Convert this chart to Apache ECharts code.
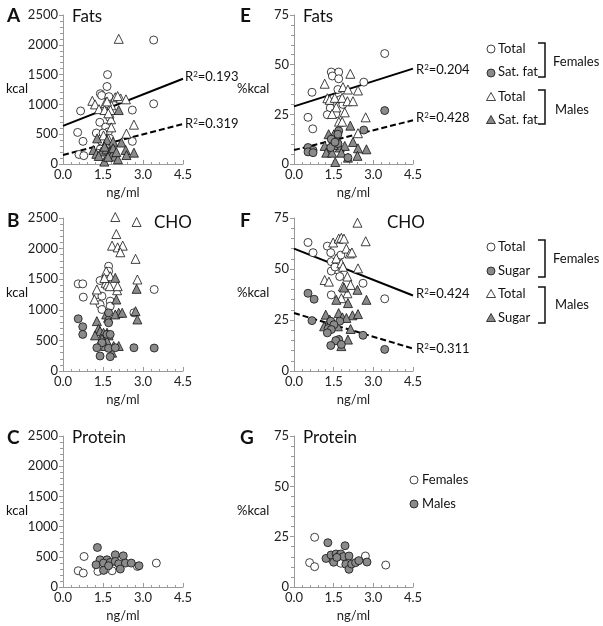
<!DOCTYPE html>
<html><head><meta charset="utf-8">
<script src="https://cdn.jsdelivr.net/npm/echarts@6/dist/echarts.min.js"></script>
<style>html,body{margin:0;padding:0;background:#fff}#c{width:603px;height:626px}</style>
</head><body><div id="c"></div>
<script>
// ---- Data (x = ng/ml) ----
const xTicks = [0.0, 1.5, 3.0, 4.5];
const kcalTicks = [0, 500, 1000, 1500, 2000, 2500];
const pctTicks = [0, 25, 50, 75];

// A: Fats kcal
const fatsKcalFemTotal = [[3.40,2080],[1.67,1500],[1.65,1300],[1.40,1180],[1.45,1150],[1.72,1130],[0.66,890],[3.40,1010],[2.60,905],[1.55,900],[1.75,780],[1.38,700],[1.60,620],[1.25,520],[1.70,540],[0.55,530],[0.75,380],[1.75,430],[2.60,380],[1.45,380],[0.60,160],[0.78,140],[1.40,250],[1.55,200],[1.85,300],[1.30,180],[1.65,330],[1.50,520]];
const fatsKcalMaleTotal = [[2.09,2100],[1.10,1060],[1.20,1000],[1.35,920],[1.58,1020],[1.81,985],[1.96,1120],[2.16,1100],[2.36,1085],[1.78,905],[1.56,905],[1.80,750],[1.70,850],[1.81,615],[2.66,660],[2.38,510],[1.69,430],[1.52,480],[2.05,1140],[1.65,1050]];
const fatsKcalMaleSat = [[2.09,905],[1.28,430],[1.65,400],[1.88,375],[2.19,360],[1.14,235],[1.25,170],[1.44,210],[1.63,245],[1.78,210],[1.84,150],[1.94,125],[2.06,80],[2.35,235],[2.38,150],[2.66,190],[1.55,40],[1.34,135],[1.69,120],[1.88,265],[1.56,290],[2.00,200]];
const fatsKcalTotalFit = [[0,640],[4.5,1430]];
const fatsKcalSatFit = [[0,150],[4.5,670]];

// E: Fats %kcal
const fatsPctFemTotal = [[3.43,55.6],[1.41,46.3],[1.69,46.3],[1.45,44.3],[1.69,42.9],[2.64,41.2],[0.68,36.1],[1.66,37.5],[1.75,32.4],[1.37,28.2],[1.26,24.8],[0.53,23.5],[0.71,17.7],[1.58,25.2],[1.85,30.0]];
const fatsPctMaleTotal = [[2.13,45.4],[1.16,40.4],[1.85,38.7],[2.04,37.5],[2.42,37.0],[1.26,33.1],[1.35,32.3],[1.54,33.3],[1.82,33.3],[2.02,31.6],[2.23,31.6],[1.60,28.5],[1.92,26.0],[1.44,25.2],[1.70,21.3],[1.82,21.3],[2.71,23.5],[2.42,15.5]];
const fatsPctMaleSat = [[2.13,19.3],[1.31,15.0],[1.51,15.0],[1.64,12.5],[2.23,11.1],[1.16,9.1],[1.35,8.3],[1.73,8.3],[1.92,9.1],[2.42,7.9],[1.22,5.7],[1.44,5.7],[1.79,5.7],[2.04,3.2],[2.40,4.1],[2.74,7.4],[1.56,1.0],[1.50,9.5]];
const fatsPctFemSat = [[3.43,26.9],[2.64,17.1],[1.69,16.7],[1.66,15.0],[1.41,12.5],[1.66,10.3],[1.39,8.3],[0.53,8.3],[0.72,6.9],[0.53,6.1],[0.72,5.7],[2.04,3.2],[1.55,11.0]];
const fatsPctTotalFit = [[0,29],[4.5,48]];
const fatsPctSatFit = [[0,7],[4.5,22]];

// B: CHO kcal
const choKcalMaleTotal = [[1.96,2516],[2.76,2435],[2.00,2238],[1.84,2048],[2.05,2020],[2.24,2048],[2.15,1940],[2.72,1832],[1.62,1630],[1.77,1549],[1.60,1440],[1.67,1413],[1.75,1386],[2.79,1495],[1.27,1332],[2.03,1320],[1.18,1168],[1.55,1520],[2.05,1386]];
const choKcalFemTotal = [[1.71,1712],[1.71,1630],[0.57,1424],[0.74,1424],[1.39,1478],[1.27,1250],[1.46,1223],[0.76,1207],[3.42,1332],[1.39,1087],[1.77,1141],[1.77,1060],[1.46,1005],[2.66,951],[1.60,1500]];
const choKcalMaleSugar = [[1.96,1522],[2.76,1342],[2.00,1168],[2.09,951],[1.96,924],[2.22,951],[2.72,978],[2.79,842],[1.27,815],[1.62,924],[1.69,870],[1.33,690],[1.39,652],[1.20,582],[1.52,625],[1.65,625],[1.71,582],[1.46,527],[1.65,489],[1.90,408],[2.09,408],[1.58,408],[1.84,300]];
const choKcalFemSugar = [[0.57,853],[0.74,723],[0.74,598],[1.71,951],[1.71,788],[1.65,598],[1.77,598],[1.46,462],[1.27,380],[1.71,370],[1.96,380],[2.66,380],[3.42,375],[1.39,245],[1.77,234]];

// F: CHO %kcal
const choPctFemTotal = [[0.53,63],[0.72,58],[1.26,61.2],[1.39,58],[1.77,56.8],[1.41,53.6],[1.64,51.9],[1.66,49.5],[1.41,49],[1.73,46.3],[2.61,43],[1.41,37.3],[3.43,35.4],[1.55,51]];
const choPctMaleTotal = [[2.40,72.7],[1.48,63],[1.69,64.9],[1.79,65.3],[1.89,64.9],[2.71,63.6],[1.98,60],[2.11,57.6],[2.19,58.1],[1.60,55.2],[1.79,52.8],[1.85,51.1],[2.02,46.3],[2.42,50.3],[1.16,44.6],[1.32,43.8],[2.14,42.2],[1.85,41.4],[2.02,38.1],[1.79,35.7]];
const choPctMaleSugar = [[1.89,40.9],[2.40,39.8],[2.74,34.9],[1.60,34.9],[2.04,33.3],[1.20,27.6],[1.69,28.4],[1.83,26.3],[2.21,27.3],[2.42,27.9],[1.35,25.2],[1.48,23.5],[1.98,26],[1.14,21.9],[1.66,21.9],[2.14,20.6],[1.73,15.4],[2.04,15.4],[1.79,12.2]];
const choPctFemSugar = [[0.53,38.1],[0.76,35.2],[0.68,24.7],[1.39,24.4],[1.73,24.4],[1.51,22.7],[1.29,20.8],[1.41,20.3],[1.26,18.7],[1.69,15.4],[1.58,14.9],[1.39,12.5],[1.79,13],[2.61,17.5],[3.43,10.6]];
const choPctTotalFit = [[0,60],[4.5,37]];
const choPctSugarFit = [[0,28.4],[4.5,11]];

// C: Protein kcal
const protKcalFem = [[0.79,505],[0.57,269],[0.76,231],[1.31,258],[1.84,269],[3.50,396],[2.79,340],[1.60,300]];
const protKcalMale = [[1.29,654],[1.39,451],[1.65,451],[1.96,533],[2.26,516],[1.24,368],[1.52,396],[1.77,407],[1.96,423],[2.09,385],[2.34,396],[2.56,396],[2.85,352],[1.52,275],[2.15,297],[1.71,352]];

// G: Protein %kcal
const protPctFem = [[0.78,24.7],[0.59,12.1],[0.78,10.1],[2.70,15.4],[3.47,10.9],[1.77,11.8],[1.45,13.5]];
const protPctMale = [[1.28,22],[1.93,20.5],[1.21,14.2],[1.40,15.9],[1.59,16.4],[1.71,15.4],[1.77,16.4],[1.87,15.1],[2.08,15.4],[1.50,12.3],[1.96,11.3],[2.08,8.8],[2.18,11.4],[2.33,12.1],[2.45,13.1],[2.76,12.4],[1.62,14.7]];

// ---- Styling / layout ----
const FONT = 'Lato, "Open Sans", sans-serif';
const GRAY = '#8a8a8a';
const AXIS = '#9a9a9a';
const grids = [
  {left:63, top:15, width:120, height:149},   // A
  {left:63, top:218, width:120, height:153},  // B
  {left:63, top:436, width:120, height:151},  // C
  {left:294, top:15, width:119, height:149},  // E
  {left:294, top:218, width:119, height:153}, // F
  {left:294, top:436, width:119, height:151}  // G
];
function xAx(i){
  return {gridIndex:i, type:'value', min:xTicks[0], max:xTicks[xTicks.length-1], interval:xTicks[1]-xTicks[0],
    axisLine:{lineStyle:{color:AXIS}}, axisTick:{show:true, inside:true, length:4, lineStyle:{color:AXIS}},
    minorTick:{show:true, splitNumber:5, length:2, lineStyle:{color:AXIS}},
    splitLine:{show:false},
    name:'ng/ml', nameLocation:'middle', nameGap:22, nameTextStyle:{fontSize:13, fontFamily:FONT, color:'#222'},
    axisLabel:{color:'#222', fontSize:13, fontFamily:FONT, margin:4, formatter:v=>v.toFixed(1)}};
}
function yAx(i, ticks){
  return {gridIndex:i, type:'value', min:ticks[0], max:ticks[ticks.length-1], interval:ticks[1]-ticks[0],
    axisLine:{show:true, lineStyle:{color:AXIS}}, axisTick:{show:true, length:4, lineStyle:{color:AXIS}},
    minorTick:{show:true, splitNumber:5, length:3, lineStyle:{color:AXIS}},
    splitLine:{show:false},
    axisLabel:{color:'#222', fontSize:13, fontFamily:FONT, margin:5, formatter:v=>String(v)}};
}
function sc(i, data, symbol, filled){
  return {type:'scatter', xAxisIndex:i, yAxisIndex:i, data:data, symbol:symbol, clip:false,
    symbolSize: symbol==='triangle' ? 9 : 8,
    itemStyle:{color: filled ? GRAY : '#fff', borderColor:'#111', borderWidth:0.8, opacity:1},
    emphasis:{disabled:true}, silent:true};
}
function fit(i, data, dashed){
  return {type:'line', xAxisIndex:i, yAxisIndex:i, data:data, symbol:'none', silent:true,
    lineStyle:{color:'#000', width:2, type: dashed ? [6,3] : 'solid'}, z:1};
}
function txt(x, y, text, size, bold){
  return {type:'text', x:x, y:y, style:{text:text, fill:'#111', font:(bold?'bold ':'') + size + 'px ' + FONT, textVerticalAlign:'middle'}};
}
function rtxt(x, y, val){
  return {type:'text', x:x, y:y, style:{text:'R{s|2}=' + val, fill:'#111', font:'13px ' + FONT, textVerticalAlign:'middle',
    rich:{s:{fontSize:8, verticalAlign:'top', padding:[0,0,6,0], fontFamily:FONT}}}};
}
function circ(x,y,filled){ return {type:'circle', shape:{cx:x, cy:y, r:4}, style:{fill: filled?GRAY:'#fff', stroke:'#111', lineWidth:0.8}}; }
function tri(x,y,filled){ return {type:'polygon', shape:{points:[[x,y-4.5],[x+4.5,y+3.5],[x-4.5,y+3.5]]}, style:{fill: filled?GRAY:'#fff', stroke:'#111', lineWidth:0.8}}; }
function bracket(x, y1, y2){ return {type:'polyline', shape:{points:[[x-7,y1],[x,y1],[x,y2],[x-7,y2]]}, style:{stroke:'#111', lineWidth:1.5, fill:null}}; }

const graphics = [
  txt(7, 16, 'A', 19, true), txt(7, 221, 'B', 19, true), txt(7, 438, 'C', 19, true),
  txt(240, 16, 'E', 19, true), txt(240, 221, 'F', 19, true), txt(240, 438, 'G', 19, true),
  txt(72, 17, 'Fats', 17), txt(154, 223, 'CHO', 17), txt(72, 438, 'Protein', 17),
  txt(303, 17, 'Fats', 17), txt(387, 223, 'CHO', 17), txt(303, 438, 'Protein', 17),
  txt(6, 89, 'kcal', 13), txt(6, 293, 'kcal', 13), txt(6, 511, 'kcal', 13),
  txt(237, 89, '%kcal', 13), txt(237, 293, '%kcal', 13), txt(237, 511, '%kcal', 13),
  rtxt(185, 77, '0.193'), rtxt(185, 124, '0.319'),
  rtxt(416, 70, '0.204'), rtxt(416, 118, '0.428'),
  rtxt(416, 294, '0.424'), rtxt(416, 349, '0.311'),
  // legend E
  circ(491,49,false), txt(498,49,'Total',13), circ(491,73,true), txt(498,72,'Sat. fat',13),
  tri(491,97,false), txt(498,97,'Total',13), tri(491,120,true), txt(498,120,'Sat. fat',13),
  bracket(545,43,77), txt(553,62,'Females',13), bracket(545,90,124), txt(555,110,'Males',13),
  // legend F
  circ(491,247,false), txt(498,247,'Total',13), circ(491,271,true), txt(498,271,'Sugar',13),
  tri(491,294,false), txt(498,294,'Total',13), tri(491,318,true), txt(498,318,'Sugar',13),
  bracket(545,240,277), txt(553,259,'Females',13), bracket(545,287,323), txt(555,305,'Males',13),
  // legend G
  circ(414,480,false), txt(422,480,'Females',13), circ(414,504,true), txt(422,504,'Males',13)
];

const option = {
  animation:false,
  grid: grids,
  xAxis: [0,1,2,3,4,5].map(i => xAx(i)),
  yAxis: [yAx(0,kcalTicks), yAx(1,kcalTicks), yAx(2,kcalTicks), yAx(3,pctTicks), yAx(4,pctTicks), yAx(5,pctTicks)],
  series: [
    fit(0, fatsKcalTotalFit, false), fit(0, fatsKcalSatFit, true),
    sc(0, fatsKcalFemTotal, 'circle', false), sc(0, fatsKcalMaleTotal, 'triangle', false), sc(0, fatsKcalMaleSat, 'triangle', true),
    sc(1, choKcalFemTotal, 'circle', false), sc(1, choKcalMaleTotal, 'triangle', false), sc(1, choKcalMaleSugar, 'triangle', true), sc(1, choKcalFemSugar, 'circle', true),
    sc(2, protKcalFem, 'circle', false), sc(2, protKcalMale, 'circle', true),
    fit(3, fatsPctTotalFit, false), fit(3, fatsPctSatFit, true),
    sc(3, fatsPctFemTotal, 'circle', false), sc(3, fatsPctMaleTotal, 'triangle', false), sc(3, fatsPctMaleSat, 'triangle', true), sc(3, fatsPctFemSat, 'circle', true),
    fit(4, choPctTotalFit, false), fit(4, choPctSugarFit, true),
    sc(4, choPctFemTotal, 'circle', false), sc(4, choPctMaleTotal, 'triangle', false), sc(4, choPctMaleSugar, 'triangle', true), sc(4, choPctFemSugar, 'circle', true),
    sc(5, protPctFem, 'circle', false), sc(5, protPctMale, 'circle', true)
  ],
  graphic: graphics
};
const chart = echarts.init(document.getElementById('c'), null, {renderer:'canvas'});
chart.setOption(option);
</script></body></html>
